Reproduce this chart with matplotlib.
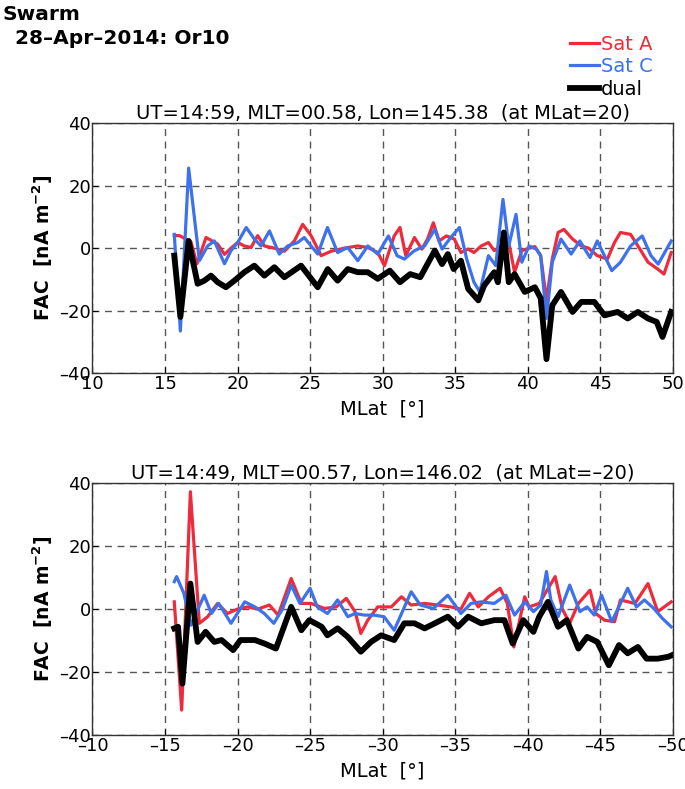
import numpy as np
import matplotlib
matplotlib.use("Agg")
import matplotlib.pyplot as plt

plt.rcParams['font.family'] = ['DejaVu Sans']

RED = '#ee2b3b'
BLUE = '#3d72ec'

# ---- top panel (northern crossing), MLat in degrees, FAC in nA m^-2
top_a_lat = [15.64, 16.0, 16.79, 17.2, 17.83, 18.63, 19.1, 19.55, 20.01, 20.47, 20.93, 21.39,
             21.85, 22.54, 23.23, 23.92, 24.49, 25.07, 25.76, 26.45, 27.37, 28.29, 28.98,
             29.67, 30.13, 30.8, 31.2, 31.6, 32.2, 32.7, 33.1, 33.5, 33.9, 34.4, 34.95,
             35.4, 35.9, 36.3, 36.8, 37.3, 37.7, 38.2, 38.7, 39.1, 39.6, 40.1, 40.5, 40.9,
             41.3, 41.7, 42.1, 42.5, 43.1, 43.7, 44.2, 44.8, 45.5, 45.99, 46.4, 47.1, 47.7,
             48.3, 48.97, 49.4, 49.9]
top_a_fac = [4.0, 4.0, 2.0, -5.0, 3.4, 1.3, -2.0, 0.0, 1.8, 0.7, 0.2, 4.0,
             0.7, 0.0, -1.0, 2.3, 7.6, 4.0, -2.4, -1.0, 0.0, 0.7, 0.2,
             -1.4, -5.6, 3.9, 6.6, -2.4, 3.4, -0.3, 2.9, 8.1, 2.3, 3.9, 2.9,
             -1.4, -0.3, -1.4, 0.7, 1.8, -0.8, 0.7, 1.8, -7.7, -0.8, 0.0, 0.5, -2.4,
             -16.7, -3.5, 5.0, 6.0, 2.9, 0.7, 0.0, -2.4, -3.5, 1.8, 5.0, 4.4, 0.0,
             -4.5, -6.7, -8.3, -1.4]

top_c_lat = [15.64, 16.06, 16.63, 17.37, 17.94, 18.4, 19.1, 19.55, 20.01, 20.6, 21.16, 21.62,
             22.2, 22.88, 23.46, 24.15, 24.6, 25.53, 26.2, 26.9, 27.6, 28.29, 28.98, 29.67,
             30.4, 31.0, 31.5, 32.2, 32.9, 33.6, 34.1, 34.7, 35.3, 35.8, 36.3, 36.7, 37.3,
             37.8, 38.3, 38.7, 39.2, 39.6, 40.1, 40.6, 40.9, 41.3, 41.7, 42.3, 43.0, 43.6,
             44.3, 44.8, 45.8, 46.4, 47.1, 47.9, 48.5, 49.0, 49.9]
top_c_fac = [4.4, -26.5, 25.6, -4.0, 0.7, 2.3, -5.0, -0.8, 1.8, 6.6, 2.9, 0.7,
             5.5, -1.9, 0.7, 1.8, 3.4, -1.9, 6.6, -1.4, 0.2, -4.0, 0.7, -1.9,
             3.9, -2.4, -3.5, -0.8, 0.7, 6.0, -0.3, 3.4, 6.6, -3.5, -10.9, -14.0, -2.4,
             -5.6, 15.6, 0.7, 10.8, -4.5, 0.7, -0.3, -2.4, -22.5, -4.5, 2.9, -1.9, 2.3,
             -3.0, 2.3, -7.2, -4.5, 0.7, 3.9, -2.4, -5.1, 2.3]

top_d_lat = [15.64, 16.06, 16.63, 17.25, 17.71, 18.17, 18.63, 19.2, 19.78, 20.47, 21.16, 21.85,
             22.54, 23.23, 24.38, 25.53, 26.22, 26.9, 27.6, 28.29, 28.98, 29.67, 30.5,
             31.2, 31.9, 32.6, 33.6, 34.1, 34.5, 34.9, 35.4, 35.9, 36.6, 37.0, 37.7, 37.95,
             38.36, 38.7, 39.1, 39.8, 40.5, 40.9, 41.3, 41.7, 42.3, 43.1, 43.7, 44.6, 45.3,
             46.2, 46.9, 47.6, 48.3, 48.9, 49.3, 49.9]
top_d_fac = [-2.4, -22.0, 2.3, -11.4, -10.4, -8.8, -10.9, -12.5, -10.4, -7.7, -5.6, -8.8,
             -6.1, -9.3, -5.6, -12.5, -6.7, -10.4, -6.7, -7.7, -7.7, -9.8, -7.2,
             -10.9, -8.3, -9.3, -0.8, -5.1, -1.9, -6.7, -4.0, -13.0, -16.7, -12.0, -7.7, -10.9,
             5.0, -10.9, -8.3, -14.0, -12.5, -16.0, -35.5, -18.3, -14.0, -20.4, -17.2, -17.2, -21.5,
             -20.4, -22.5, -20.4, -22.5, -23.6, -28.4, -20.4]

# ---- bottom panel (southern crossing)
bot_a_lat = [-15.64, -16.15, -16.75, -17.37, -17.94, -18.63, -19.3, -20.0, -20.7, -21.4,
             -22.2, -22.8, -23.7, -24.4, -25.07, -26.0, -26.8, -27.5, -28.1, -28.5, -28.98,
             -29.67, -30.6, -31.3, -31.97, -32.9, -33.8, -34.7, -35.4, -36.0, -36.6, -37.3,
             -38.1, -38.6, -39.05, -39.8, -40.1, -40.8, -41.9, -42.4, -42.9, -43.5, -44.3,
             -44.7, -45.3, -45.99, -46.4, -47.4, -48.3, -48.97, -49.9]
bot_a_fac = [2.3, -32.0, 37.2, -4.5, -2.4, 1.8, -1.4, 0.0, 0.7, 0.0,
             1.3, -1.9, 9.7, 1.8, 1.8, 0.2, 0.7, 3.4, -0.8, -7.7, -3.5,
             0.7, 0.7, 3.9, 1.3, 1.8, 1.3, 0.7, 0.0, 5.0, 0.7, 3.9,
             6.6, 1.8, -12.0, 3.9, 0.7, 1.8, 10.3, 0.0, -4.5, 1.8, 6.0,
             -1.4, -3.5, -4.0, 2.9, 1.8, 8.1, -0.8, 2.3]

bot_c_lat = [-15.64, -15.8, -16.3, -16.8, -17.25, -17.7, -18.2, -18.7, -19.55, -20.5, -21.2,
             -21.85, -22.5, -23.1, -23.7, -24.3, -25.0, -25.5, -26.2, -26.9, -27.6, -28.1,
             -28.75, -29.4, -30.1, -30.8, -31.97, -32.6, -33.5, -34.5, -35.4, -36.1, -36.8,
             -37.7, -38.5, -39.1, -39.8, -40.4, -40.9, -41.3, -41.6, -42.1, -42.9, -43.6,
             -44.1, -44.6, -45.1, -45.8, -46.9, -47.5, -48.05, -48.7, -49.3, -49.9]
bot_c_fac = [8.7, 10.3, 5.0, -5.1, -0.3, 4.4, -1.4, 1.8, -4.5, 2.3, 0.7,
             -1.4, -4.5, 0.0, 7.6, 1.8, 6.6, 0.7, -1.4, 2.9, -2.4, -1.4,
             -1.9, -1.9, -2.4, -6.7, 5.5, 1.3, 0.2, 4.4, -1.4, 1.8, 2.3,
             1.8, 4.4, -1.9, 2.3, -0.8, 1.3, 11.9, 2.9, -2.4, 7.6, -0.8,
             0.7, -1.9, 4.4, -4.0, 6.6, 0.7, 2.9, 0.2, -3.0, -5.6]

bot_d_lat = [-15.64, -15.9, -16.2, -16.75, -17.25, -17.8, -18.4, -18.9, -19.7, -20.2, -21.2,
             -21.85, -22.65, -23.7, -24.4, -24.95, -25.8, -26.2, -26.9, -27.6, -28.5, -29.2,
             -29.9, -30.8, -31.5, -32.2, -32.9, -33.6, -34.5, -35.2, -35.9, -36.8, -37.7,
             -38.4, -38.97, -39.7, -40.4, -40.8, -41.4, -42.1, -42.7, -43.5, -44.1, -44.8,
             -45.6, -46.3, -46.9, -47.6, -48.2, -48.97, -49.7, -49.95]
bot_d_fac = [-6.1, -5.6, -23.6, 8.1, -10.4, -7.2, -10.4, -9.8, -13.0, -9.8, -9.8,
             -10.9, -12.5, 0.7, -6.7, -3.5, -5.6, -8.3, -6.1, -8.8, -13.5, -10.4,
             -8.3, -9.8, -4.5, -4.5, -6.1, -4.5, -2.4, -5.6, -2.4, -4.5, -3.5,
             -3.5, -10.9, -3.5, -7.2, -2.4, 2.3, -5.6, -3.5, -12.5, -8.8, -10.4,
             -17.8, -11.4, -14.0, -12.0, -15.7, -15.7, -15.1, -14.6]

top_title = 'UT=14:59, MLT=00.58, Lon=145.38  (at MLat=20)'
bot_title = 'UT=14:49, MLT=00.57, Lon=146.02  (at MLat=\u201320)'
top_xticks = list(range(10, 51, 5))
bot_xticks = list(range(-10, -51, -5))
yticks = [-40, -20, 0, 20, 40]


def fmt(v):
    return str(v).replace('-', '\u2013')


def panel(ax, a_lat, a_fac, c_lat, c_fac, d_lat, d_fac, title, xticks):
    ax.plot(a_lat, a_fac, color=RED, lw=2.3, label='Sat A', solid_joinstyle='round')
    ax.plot(c_lat, c_fac, color=BLUE, lw=2.3, label='Sat C', solid_joinstyle='round')
    ax.plot(d_lat, d_fac, color='black', lw=4.2, label='dual', solid_joinstyle='round')
    ax.set_xlim(xticks[0], xticks[-1])
    ax.set_ylim(-40, 40)
    ax.set_xticks(xticks)
    ax.set_xticklabels([fmt(t) for t in xticks])
    ax.set_yticks(yticks)
    ax.set_yticklabels([fmt(t) for t in yticks])
    ax.grid(True, color='#555555', ls=(0, (5, 4)), lw=1.0)
    ax.tick_params(direction='in', length=4, labelsize=13, pad=1)
    for s in ax.spines.values():
        s.set_linewidth(1.0)
        s.set_color('#333333')
    ax.set_title(title, fontsize=14, pad=3)
    ax.set_xlabel('MLat  [\u00b0]', fontsize=14, labelpad=5)
    ax.set_ylabel('FAC  [nA m$^{\\mathbf{-2}}$]', fontsize=13.5, fontweight='bold', labelpad=3)


fig = plt.figure(figsize=(6.85, 7.89), dpi=100)
ax1 = fig.add_axes([0.135, 0.527, 0.847, 0.317])
ax2 = fig.add_axes([0.135, 0.068, 0.847, 0.320])

panel(ax1, top_a_lat, top_a_fac, top_c_lat, top_c_fac, top_d_lat, top_d_fac, top_title, top_xticks)
panel(ax2, bot_a_lat, bot_a_fac, bot_c_lat, bot_c_fac, bot_d_lat, bot_d_fac, bot_title, bot_xticks)

fig.text(0.003, 0.982, 'Swarm', fontsize=14.5, fontweight='bold', va='center')
fig.text(0.022, 0.951, '28\u2013Apr\u20132014: Or10', fontsize=14.5, fontweight='bold', va='center')

h, l = ax1.get_legend_handles_labels()
fig.legend(h, l, loc='upper left', bbox_to_anchor=(0.832, 0.956), frameon=False,
           fontsize=14, labelcolor='linecolor', handlelength=1.5, handletextpad=0.1,
           labelspacing=0.18, borderaxespad=0.0, borderpad=0.0)

fig.savefig('out.png', dpi=100)
